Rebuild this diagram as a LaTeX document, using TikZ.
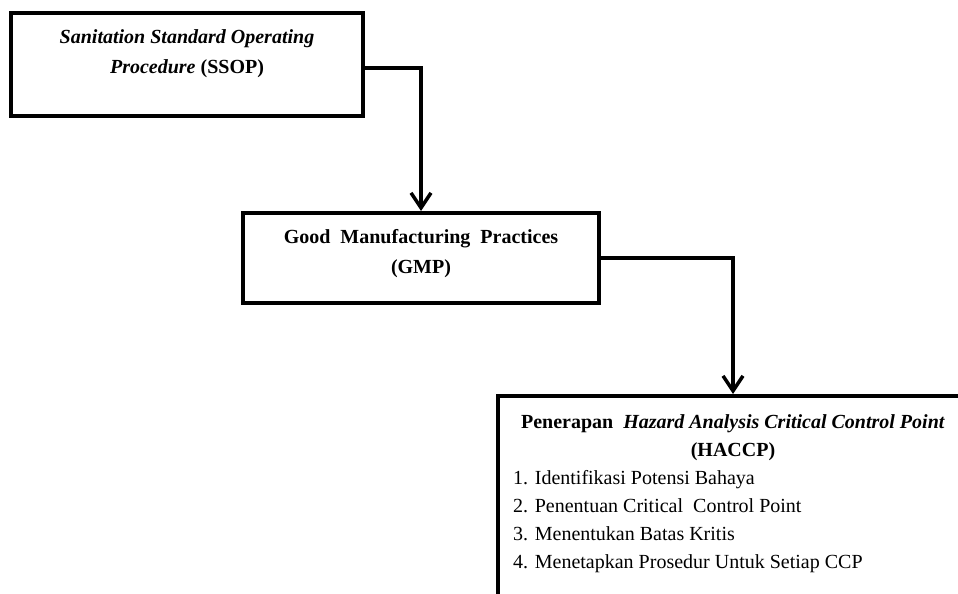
\documentclass[tikz,border=0pt]{standalone}
\usepackage{fontspec}
\setmainfont{Liberation Serif}
\usetikzlibrary{arrows.meta}
\tikzset{
  box/.style={draw=black, line width=4pt, fill=white},
  conn/.style={draw=black, line width=3.5pt, -{Straight Barb[length=15pt,width=20pt,line width=3.5pt]}},
  txt/.style={inner sep=0pt, font=\fontsize{20}{24}\selectfont},
}
\begin{document}
\begin{tikzpicture}[x=1pt,y=-1pt]
\useasboundingbox (0,0) rectangle (958,594);
\clip (0,0) rectangle (958,594);
\fill[white] (0,0) rectangle (958,594);
% boxes
\path[box] (11,13) rectangle (363,116);
\coordinate (ssopR) at (363,68);
\path[box] (243,213) rectangle (599,303);
\coordinate (gmpT) at (421,211);
\coordinate (gmpR) at (599,258);
\path[box] (498,396) rectangle (975,620);
\coordinate (hacT) at (733,394);
% texts
\node[txt,anchor=base] (t1) at (187,44) {\textbf{\textit{Sanitation Standard Operating}}};
\node[txt,anchor=base] (t2) at (187,74) {\textbf{\textit{Procedure} (SSOP)}};
\node[txt,anchor=base] (g1) at (421,243) {\textbf{Good\ \ Manufacturing\ \ Practices}};
\node[txt,anchor=base] (g2) at (421,273) {\textbf{(GMP)}};
\node[txt,anchor=base] (h1) at (733,428) {\textbf{Penerapan\ \ \textit{Hazard Analysis Critical Control Point}}};
\node[txt,anchor=base] (h2) at (733,456) {\textbf{(HACCP)}};
\node[txt,anchor=base west] (i1) at (513,484) {1. Identifikasi\ Potensi Bahaya};
\node[txt,anchor=base west] (i2) at (513,512) {2. Penentuan Critical\ \ Control Point};
\node[txt,anchor=base west] (i3) at (513,540) {3. Menentukan Batas Kritis};
\node[txt,anchor=base west] (i4) at (513,568) {4. Menetapkan Prosedur Untuk Setiap\ CCP};
% connectors
\draw[conn] (ssopR) -| (gmpT);
\draw[conn] (gmpR) -| (hacT);
\end{tikzpicture}
\end{document}
